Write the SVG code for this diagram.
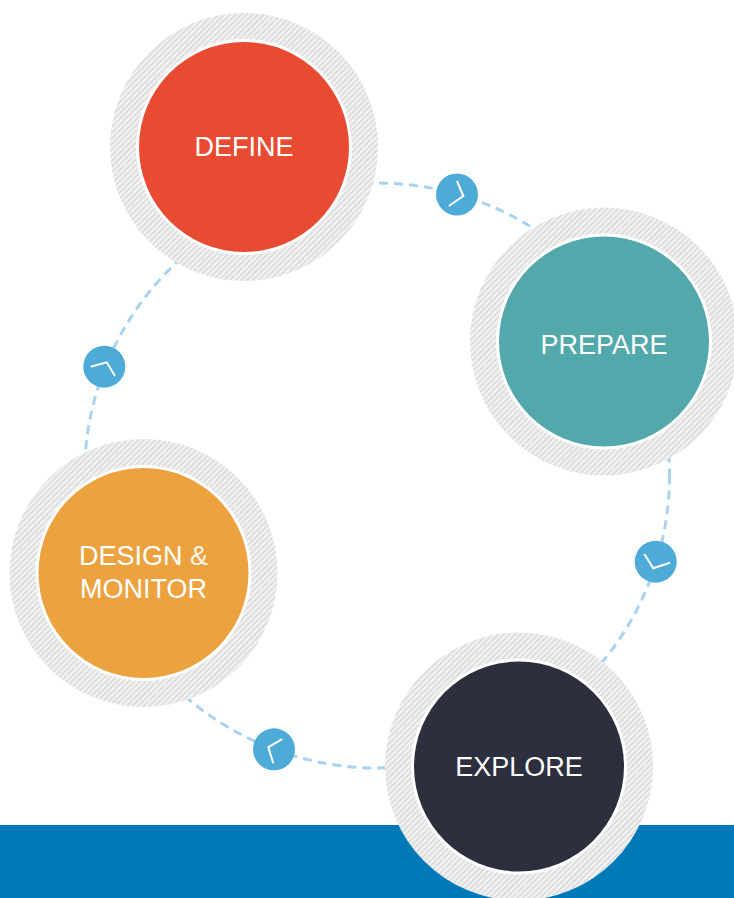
<svg xmlns="http://www.w3.org/2000/svg" width="734" height="898" viewBox="0 0 734 898">
<defs>
<pattern id="hatch" width="4" height="4" patternUnits="userSpaceOnUse" patternTransform="rotate(45)">
<rect width="4" height="4" fill="#f2f2f2"/>
<rect x="0" y="0" width="1.6" height="4" fill="#dadada"/>
</pattern>
</defs>
<style>
.ring{fill:url(#hatch)}
.gap{fill:#ffffff}
.lbl{font-family:"Liberation Sans",Arial,Helvetica,sans-serif;font-size:27px;fill:#ffffff;text-anchor:middle}
.icon{fill:#4eaad7}
.hand{fill:none;stroke:#ffffff;stroke-width:2;stroke-linecap:butt;stroke-linejoin:miter}
.dash{fill:none;stroke:#a9d3ee;stroke-width:3;stroke-dasharray:9 6}
</style>
<rect width="734" height="898" fill="#ffffff"/>
<rect id="bar" x="0" y="825" width="734" height="73" fill="#0079b8"/>
<g id="connectors">
<circle class="dash" cx="377" cy="475.5" r="292.5"/>
</g>
<g id="define">
<circle class="ring" cx="244" cy="147" r="134"/>
<circle class="gap" cx="244" cy="147" r="108"/>
<circle cx="244" cy="147" r="105" fill="#e84b32"/>
<text class="lbl" x="244" y="156">DEFINE</text>
</g>
<g id="prepare">
<circle class="ring" cx="604" cy="341.5" r="134"/>
<circle class="gap" cx="604" cy="341.5" r="108"/>
<circle cx="604" cy="341.5" r="105" fill="#53a8ac"/>
<text class="lbl" x="604" y="354">PREPARE</text>
</g>
<g id="explore">
<circle class="ring" cx="519" cy="766.5" r="134"/>
<circle class="gap" cx="519" cy="766.5" r="108"/>
<circle cx="519" cy="766.5" r="105" fill="#2e2f3e"/>
<text class="lbl" x="519" y="776">EXPLORE</text>
</g>
<g id="design-monitor">
<circle class="ring" cx="143.5" cy="573" r="134"/>
<circle class="gap" cx="143.5" cy="573" r="108"/>
<circle cx="143.5" cy="573" r="105" fill="#eba23f"/>
<text class="lbl" x="143.5" y="565">DESIGN <tspan font-weight="300" fill-opacity="0.9">&amp;</tspan></text>
<text class="lbl" x="143.5" y="598">MONITOR</text>
</g>
<g id="icon1">
<circle class="icon" cx="457" cy="194.5" r="21"/>
<polyline class="hand" points="457,181 463.3,196 449,206"/>
</g>
<g id="icon2">
<circle class="icon" cx="104.3" cy="366.7" r="21"/>
<polyline class="hand" points="90.7,366.7 106.7,362.3 115,376"/>
</g>
<g id="icon3">
<circle class="icon" cx="655.7" cy="561.7" r="21"/>
<polyline class="hand" points="644.3,554 653.3,568.3 670,562.7"/>
</g>
<g id="icon4">
<circle class="icon" cx="274" cy="749.3" r="21"/>
<polyline class="hand" points="282.3,739 268.3,747.3 273.3,763.3"/>
</g>
</svg>
